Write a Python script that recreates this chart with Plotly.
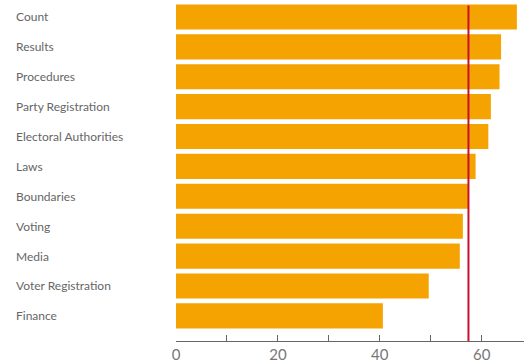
import plotly.graph_objects as go

categories = ["Count", "Results", "Procedures", "Party Registration", "Electoral Authorities",
              "Laws", "Boundaries", "Voting", "Media", "Voter Registration", "Finance"]
values = [66.9, 63.8, 63.5, 61.8, 61.3, 58.8, 57.4, 56.3, 55.7, 49.6, 40.6]
reference_value = 57.4
tick_vals = [0, 10, 20, 30, 40, 50, 60]
tick_text = ["0", "", "20", "", "40", "", "60"]

fig = go.Figure()
fig.add_trace(go.Bar(
    x=values, y=categories, orientation="h",
    marker=dict(color="#F5A301", line=dict(width=0)),
    width=0.84, hoverinfo="x+y",
))

for c in categories:
    fig.add_annotation(
        x=(14 - 176) / 348, xref="paper", y=c, yref="y",
        text=c, showarrow=False, xanchor="left", yanchor="middle",
        font=dict(family="Lato, sans-serif", size=12, color="#666666"),
    )

fig.add_shape(type="line", xref="x", yref="paper",
              x0=reference_value, x1=reference_value, y0=0, y1=0.99,
              line=dict(color="#C8102E", width=2))

fig.update_layout(
    width=524, height=364,
    margin=dict(l=176, r=0, t=2, b=23),
    paper_bgcolor="white", plot_bgcolor="white",
    showlegend=False,
    bargap=0.16,
    xaxis=dict(
        range=[0, 68.3], tickvals=tick_vals, ticktext=tick_text,
        ticks="inside", ticklen=6, tickcolor="#666666", tickwidth=1,
        showline=True, linecolor="#666666", linewidth=1,
        showgrid=False, zeroline=False,
        tickfont=dict(family="Lato, sans-serif", size=15, color="#777777"),
    ),
    yaxis=dict(
        categoryorder="array", categoryarray=categories,
        range=[10.84, -0.5], showticklabels=False, showgrid=False,
        zeroline=False, showline=False, ticks="",
    ),
)

fig.write_html("out.html")
